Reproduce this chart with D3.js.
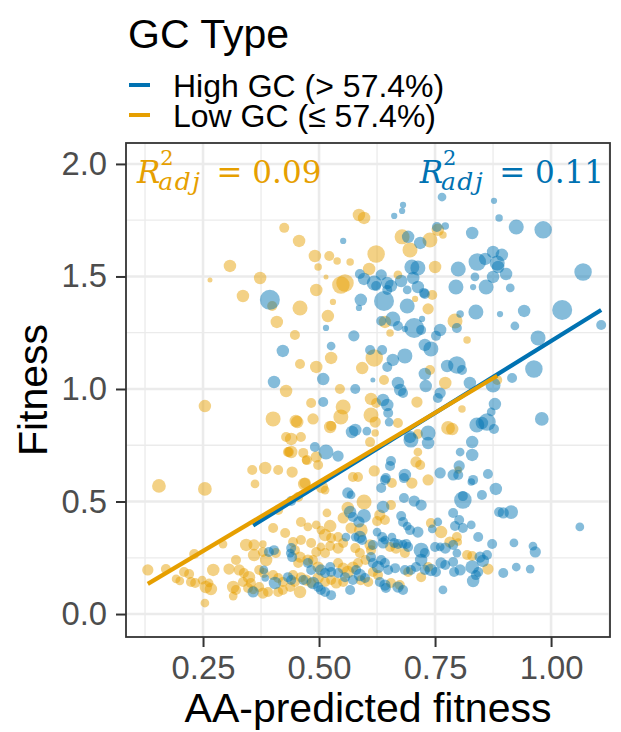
<!DOCTYPE html>
<html>
<head>
<meta charset="utf-8">
<script src="https://cdn.jsdelivr.net/npm/d3@7"></script>
<style>
  body { margin: 0; background: #fff; }
  text { font-family: "Liberation Sans", Arial, sans-serif; }
</style>
</head>
<body>
<div id="root"></div>
<script>
// [AA-predicted fitness, fitness, point size]
const highGC = [
  [0.394,1.396,8],[0.422,1.169,5],[0.403,1.031,5],
  [0.552,1.658,2.5],[0.662,1.769,2.5],[0.679,1.791,2.5],[0.681,1.818,2.5],[0.765,1.853,3.5],
  [0.515,1.271,2.5],[0.526,1.191,3.5],[0.575,1.236,4.5],[0.509,1.044,5],
  [0.588,1.511,4],[0.597,1.489,5],[0.619,1.471,6],[0.623,1.458,4],[0.634,1.507,4.5],[0.647,1.471,5],
  [0.655,1.458,5],[0.647,1.44,4],[0.677,1.48,5],[0.69,1.44,3.5],
  [0.59,1.396,5],[0.586,1.36,2.5],[0.64,1.391,8],[0.69,1.369,6],[0.726,1.427,4],[0.722,1.311,2.5],
  [0.659,1.311,6],[0.634,1.302,4],[0.67,1.28,4],[0.705,1.271,8],[0.72,1.262,4],[0.685,1.267,2.5],
  [0.761,1.262,5],[0.752,1.236,4],[0.728,1.196,5],[0.741,1.178,6],[0.61,1.173,4],[0.636,1.173,4],
  [0.685,1.147,6],[0.659,1.129,5],[0.647,1.098,4],[0.728,1.067,5],[0.67,1.027,5],[0.616,1.04,2],
  [0.776,1.102,5],[0.73,1.013,5],[0.578,1.0,4],
  [0.692,1.676,5],[0.718,1.649,5],[0.754,1.72,4],[0.772,1.724,3],[0.7,1.542,6],[0.713,1.538,6],
  [0.703,1.493,5],[0.713,1.453,5],[0.728,1.422,4],
  [0.877,1.836,2.5],[0.888,1.76,3],[0.925,1.72,6],[0.983,1.707,7],[0.83,1.693,5],
  [0.875,1.609,5],[0.894,1.596,5],[0.858,1.578,5],[0.841,1.564,7],[0.884,1.56,6],[0.886,1.542,5],
  [0.80,1.533,6],[0.903,1.511,5],[0.875,1.498,5],[0.836,1.498,3.5],[1.069,1.52,7],
  [0.795,1.453,6],[0.86,1.453,6],[0.832,1.453,2.5],[0.912,1.449,3.5],
  [0.838,1.342,6],[0.804,1.333,3],[0.89,1.333,2.5],[0.942,1.347,5],[1.024,1.351,8],
  [0.797,1.271,4],[0.922,1.28,3.5],[0.972,1.227,6],[1.108,1.284,4],
  [0.797,1.107,7],[0.808,1.084,4],[0.963,1.089,7],[0.916,1.049,4],[0.825,1.027,5],[0.875,1.018,6],
  [0.879,0.933,5],[0.871,0.898,3.5],[0.862,0.853,7],[0.84,0.84,6],[0.851,0.849,5],[0.877,0.822,4],
  [0.98,0.867,5.5],[0.675,0.996,5],[0.681,0.982,4],[0.761,0.982,4.5],[0.756,0.96,4],
  [0.83,0.764,5],[0.83,0.707,5],[0.804,0.72,3.5],[0.802,0.658,4.5],[0.789,0.618,4.5],[0.8,0.618,4],
  [0.864,0.622,4],[0.832,0.596,4],[0.828,0.587,3],[0.881,0.556,5],[0.851,0.529,4],[0.81,0.507,7],
  [0.81,0.524,4],[0.888,0.453,4],[0.897,0.449,4.5],[0.914,0.453,5.5],[1.062,0.387,3.5],[0.789,0.449,4],
  [0.802,0.418,4],[0.793,0.391,4],[0.81,0.382,4],[0.828,0.396,3.5],[0.843,0.342,4],[0.873,0.311,4],
  [0.92,0.316,3.5],[0.961,0.302,3.5],[0.966,0.276,4.5],
  [0.789,0.307,4],[0.797,0.271,3.5],[0.847,0.253,4.5],[0.853,0.236,5],[0.862,0.262,4],[0.83,0.209,5.5],
  [0.843,0.187,4],[0.838,0.173,4],[0.832,0.147,5],[0.897,0.182,4],[0.925,0.209,3.5],[0.955,0.2,3.5],
  [0.804,0.196,4.5],[0.791,0.187,4],[0.789,0.231,4],
  [0.392,0.276,4],[0.403,0.284,4],[0.358,0.098,4.5],[0.381,0.196,3.5],[0.384,0.16,3],[0.405,0.138,5],
  [0.44,0.502,4],[0.442,0.253,4],[0.466,0.151,4],[0.487,0.138,5],[0.567,0.107,4],[0.573,0.151,4],
  [0.509,0.942,4],[0.638,0.951,5],[0.647,0.929,5],[0.649,0.893,4],[0.651,0.853,3.5],[0.571,0.809,5],
  [0.578,0.818,5],[0.603,0.813,3.5],[0.491,0.742,4],[0.515,0.72,6],[0.541,0.702,4.5],
  [0.698,0.773,6],[0.696,0.787,5],[0.735,0.804,6],[0.735,0.76,5],[0.655,0.68,4],[0.653,0.658,4],
  [0.685,0.618,5],[0.683,0.604,4],[0.644,0.604,4],[0.642,0.596,4],[0.634,0.56,4],[0.761,0.627,4.5],
  [0.562,0.538,4.5],[0.569,0.529,3.5],[0.567,0.453,5],[0.573,0.431,4],[0.683,0.516,4],[0.705,0.502,4.5],
  [0.72,0.484,4.5],[0.638,0.476,5],[0.597,0.436,5.5],[0.586,0.409,4.5],[0.677,0.436,4],[0.681,0.409,4],
  [0.696,0.373,4],[0.69,0.391,3.5],[0.713,0.364,4.5],[0.744,0.378,3.5],[0.756,0.409,3.5],
  [0.558,0.342,3.5],[0.578,0.342,3.5],[0.588,0.342,5],[0.593,0.329,4],[0.625,0.364,3.5],[0.636,0.342,4],
  [0.642,0.329,3.5],[0.657,0.342,3.5],[0.662,0.316,4],[0.67,0.311,4],[0.681,0.311,3.5],[0.688,0.311,4],
  [0.692,0.298,4],[0.638,0.316,4.5],[0.72,0.284,6],[0.728,0.271,4],[0.75,0.298,4],[0.761,0.298,3.5],
  [0.772,0.293,4.5],[0.616,0.307,4],[0.44,0.293,4],[0.438,0.271,3.5],
  [0.476,0.227,4],[0.483,0.196,4],[0.504,0.196,4.5],[0.513,0.182,4],[0.524,0.209,4],[0.526,0.187,4],
  [0.541,0.182,4],[0.556,0.164,4],[0.504,0.107,4],[0.513,0.098,4],[0.526,0.084,4],[0.498,0.12,4],
  [0.433,0.164,4],[0.44,0.151,4],
  [0.58,0.196,4],[0.588,0.173,5],[0.599,0.16,4],[0.612,0.253,4],[0.616,0.227,4],[0.627,0.209,5],
  [0.634,0.24,4],[0.642,0.227,4],[0.649,0.196,4],[0.664,0.204,4],[0.631,0.142,4],[0.642,0.129,4.5],
  [0.644,0.116,4],[0.67,0.12,4.5],[0.681,0.107,4],
  [0.685,0.196,4],[0.698,0.196,4],[0.709,0.209,4],[0.72,0.24,5],[0.728,0.196,4],[0.741,0.196,5],
  [0.752,0.187,4],[0.763,0.227,4.5],[0.772,0.218,4],[0.767,0.107,3.5]
];

const lowGC = [
  [0.425,1.716,4],[0.308,1.547,5],[0.265,1.484,2],[0.373,1.493,5],[0.336,1.413,5],[0.399,1.369,4],[0.409,1.298,5],
  [0.586,1.773,5],[0.597,1.76,5],[0.457,1.658,5],[0.491,1.591,5],[0.498,1.542,3],[0.522,1.591,4],
  [0.539,1.569,3],[0.567,1.564,3],[0.623,1.6,7],[0.608,1.533,5],[0.515,1.498,2],[0.494,1.44,5],
  [0.556,1.471,7],[0.547,1.462,7],[0.459,1.36,6],[0.53,1.387,2.5],[0.519,1.324,5],[0.448,1.24,4],
  [0.459,1.111,4],[0.526,1.138,5],[0.494,1.098,5],
  [0.67,1.507,3.5],[0.707,1.4,2.5],[0.735,1.356,4.5],[0.642,1.298,5],[0.653,1.249,3],[0.619,1.138,7],
  [0.593,1.093,5],[0.739,1.084,4],[0.64,1.04,4],[0.772,1.027,5],
  [0.679,1.676,6],[0.696,1.618,6],[0.739,1.662,6],[0.756,1.707,5],[0.767,1.684,3],[0.75,1.542,5],[0.744,1.418,4],
  [0.793,1.302,6],[0.819,1.218,3],[0.884,1.04,4],
  [0.808,0.911,3],[0.787,0.822,5],[0.8,0.64,3],[0.797,0.342,4],[0.8,0.32,3],[0.819,0.262,4],[0.83,0.258,4],
  [0.864,0.2,4.5],[0.778,0.827,5.5],[0.713,0.8,4],[0.657,0.582,4],[0.782,0.32,4.5],[0.674,0.129,4],
  [0.735,0.209,4],[0.6,0.24,4],[0.59,0.15,4],
  [0.254,0.924,5],[0.401,0.867,6],[0.155,0.569,5.5],[0.254,0.556,5.5],[0.356,0.64,4],[0.384,0.649,5],
  [0.412,0.64,4],[0.362,0.578,3.5],[0.429,0.787,4],[0.433,0.72,4],[0.401,0.382,4],[0.427,0.36,4],
  [0.293,0.311,3.5],[0.231,0.267,4],[0.131,0.196,4.5],[0.17,0.2,4],[0.192,0.156,3.5],[0.2,0.147,3.5],
  [0.209,0.187,4],[0.22,0.178,4],[0.224,0.142,4],[0.233,0.138,4],[0.248,0.151,3.5],[0.256,0.12,5],
  [0.267,0.111,5],[0.263,0.138,3.5],[0.272,0.196,5],[0.254,0.049,3.5],
  [0.343,0.307,5],[0.36,0.307,4.5],[0.379,0.311,3],[0.36,0.262,5],[0.379,0.276,4],[0.386,0.24,5],
  [0.407,0.271,4],[0.306,0.2,4.5],[0.321,0.24,4],[0.328,0.196,4.5],[0.315,0.12,5],[0.321,0.107,4],
  [0.315,0.08,3.5],[0.338,0.182,4],[0.349,0.164,5],[0.336,0.142,4],[0.353,0.138,4],[0.347,0.116,4],
  [0.358,0.107,3.5],[0.371,0.12,4],[0.379,0.093,4.5],[0.39,0.098,4],[0.371,0.196,4],[0.381,0.182,4],
  [0.401,0.173,4],[0.412,0.16,4],[0.422,0.142,4],[0.422,0.107,4],[0.412,0.098,4],
  [0.429,0.991,5],[0.453,0.853,5],[0.545,1.0,4],[0.524,0.831,5],[0.435,0.72,4],[0.474,0.684,4],
  [0.468,0.578,5],[0.506,0.564,5],[0.412,0.462,4],
  [0.483,0.938,4],[0.552,0.92,6],[0.547,0.876,6],[0.45,0.858,5],[0.487,0.867,4.5],[0.526,0.836,4],
  [0.612,0.956,5],[0.623,0.938,4],[0.612,0.884,6],[0.621,0.853,4.5],[0.67,0.849,4],[0.711,0.942,4.5],
  [0.44,0.778,5],[0.461,0.787,4],[0.621,0.804,3],[0.44,0.72,5],[0.466,0.716,4],[0.494,0.698,4.5],
  [0.498,0.662,4],[0.472,0.684,3.5],[0.61,0.764,4],[0.713,0.72,3.5],[0.709,0.676,4.5],[0.718,0.662,4],
  [0.619,0.636,4.5],[0.7,0.582,4.5],[0.735,0.596,4.5],[0.442,0.631,4.5],[0.47,0.582,4.5],[0.573,0.609,4],
  [0.584,0.609,4],[0.513,0.551,3.5],[0.455,0.52,4],[0.597,0.498,6],[0.562,0.471,5],[0.631,0.44,4.5],
  [0.625,0.413,4],[0.642,0.418,4],[0.655,0.484,4],[0.517,0.449,3.5],[0.552,0.427,4.5],[0.461,0.409,4],
  [0.494,0.396,3.5],[0.524,0.391,5],[0.504,0.373,3.5],[0.476,0.387,3.5],[0.741,0.404,4],[0.763,0.364,5],
  [0.513,0.351,5],[0.526,0.338,4],[0.541,0.342,4],[0.569,0.382,4.5],[0.59,0.373,5.5],[0.653,0.298,4],
  [0.666,0.293,4.5],[0.685,0.271,4],[0.61,0.307,4.5],[0.612,0.284,4],[0.578,0.293,4],[0.588,0.271,4],
  [0.552,0.316,4],[0.541,0.293,4.5],[0.524,0.302,4],[0.504,0.298,3.5],[0.513,0.271,4],[0.494,0.276,4],
  [0.483,0.316,4],[0.461,0.329,4],[0.444,0.32,4],[0.448,0.284,4],
  [0.459,0.253,4.5],[0.476,0.24,4.5],[0.455,0.227,4],[0.487,0.24,4],[0.498,0.209,4.5],[0.541,0.227,4],
  [0.552,0.204,4.5],[0.562,0.187,5],[0.573,0.209,4.5],[0.584,0.227,4],
  [0.461,0.164,4],[0.472,0.151,4.5],[0.483,0.138,4],[0.498,0.16,4.5],[0.513,0.142,4],[0.526,0.151,4],
  [0.537,0.138,4.5],[0.552,0.142,4],[0.459,0.098,5],[0.444,0.173,4],[0.448,0.142,4],[0.438,0.12,4],
  [0.616,0.187,4],[0.627,0.173,4],[0.606,0.142,4],[0.655,0.138,4],[0.692,0.187,4],[0.72,0.164,4]
];

const groupNames = ['High GC (> 57.4%)', 'Low GC (\u2264 57.4%)'];
const groupColors = ['#0072B2', '#E69F00'];
const fitSlope = [1.277, 1.228];
const fitIntercept = [-0.064, -0.027];
const r2adj = ['0.11', '0.09'];

const xTicks = [0.25, 0.5, 0.75, 1.0];
const xMinor = [0.125, 0.375, 0.625, 0.875, 1.125];
const yTicks = [0, 0.5, 1.0, 1.5, 2.0];
const yMinor = [0.25, 0.75, 1.25, 1.75];

const width = 621, height = 732;
const panel = { left: 126, right: 610, top: 143, bottom: 637 };

let svg = d3.select('#root').append('svg')
  .attr('width', width)
  .attr('height', height);

let x = d3.scaleLinear().domain([0.084, 1.127]).range([panel.left, panel.right]),
    y = d3.scaleLinear().domain([-0.102, 2.093]).range([panel.bottom, panel.top]),
    r = d3.scaleLinear().domain([0, 8]).range([0, 10]);

svg.append('clipPath').attr('id', 'panelClip')
  .append('rect')
  .attr('x', panel.left).attr('y', panel.top)
  .attr('width', panel.right - panel.left).attr('height', panel.bottom - panel.top);

// grid
let grid = svg.append('g').attr('clip-path', 'url(#panelClip)');
grid.selectAll('.vminor').data(xMinor).enter().append('line')
  .attr('x1', d => x(d)).attr('x2', d => x(d))
  .attr('y1', panel.top).attr('y2', panel.bottom)
  .style('stroke', '#EBEBEB').style('stroke-width', 1.3);
grid.selectAll('.hminor').data(yMinor).enter().append('line')
  .attr('y1', d => y(d)).attr('y2', d => y(d))
  .attr('x1', panel.left).attr('x2', panel.right)
  .style('stroke', '#EBEBEB').style('stroke-width', 1.3);
grid.selectAll('.vmajor').data(xTicks).enter().append('line')
  .attr('x1', d => x(d)).attr('x2', d => x(d))
  .attr('y1', panel.top).attr('y2', panel.bottom)
  .style('stroke', '#EBEBEB').style('stroke-width', 2.6);
grid.selectAll('.hmajor').data(yTicks).enter().append('line')
  .attr('y1', d => y(d)).attr('y2', d => y(d))
  .attr('x1', panel.left).attr('x2', panel.right)
  .style('stroke', '#EBEBEB').style('stroke-width', 2.6);

// points
let pts = svg.append('g').attr('clip-path', 'url(#panelClip)');
[lowGC, highGC].forEach((series, i) => {
  let color = i === 0 ? groupColors[1] : groupColors[0];
  pts.append('g').selectAll('circle')
    .data(series)
    .enter()
    .append('circle')
    .attr('cx', d => x(d[0]))
    .attr('cy', d => y(d[1]))
    .attr('r', d => r(d[2]))
    .style('fill', color)
    .style('fill-opacity', 0.48);
});

// fitted lines, over each group's x range
let lines = svg.append('g').attr('clip-path', 'url(#panelClip)');
[highGC, lowGC].forEach((series, i) => {
  let ext = d3.extent(series, d => d[0]);
  lines.append('line')
    .attr('x1', x(ext[0])).attr('y1', y(fitIntercept[i] + fitSlope[i] * ext[0]))
    .attr('x2', x(ext[1])).attr('y2', y(fitIntercept[i] + fitSlope[i] * ext[1]))
    .style('stroke', groupColors[i])
    .style('stroke-width', 4.2);
});

// panel border
svg.append('rect')
  .attr('x', panel.left).attr('y', panel.top)
  .attr('width', panel.right - panel.left).attr('height', panel.bottom - panel.top)
  .style('fill', 'none').style('stroke', '#333333').style('stroke-width', 1.8);

// axes
let xAxis = svg.append('g')
  .attr('transform', 'translate(0,' + panel.bottom + ')')
  .call(d3.axisBottom(x).tickValues(xTicks).tickFormat(d3.format('.2f')).tickSize(10).tickPadding(9));
let yAxis = svg.append('g')
  .attr('transform', 'translate(' + panel.left + ',0)')
  .call(d3.axisLeft(y).tickValues(yTicks).tickFormat(d3.format('.1f')).tickSize(10).tickPadding(9));

[xAxis, yAxis].forEach(ax => {
  ax.select('.domain').remove();
  ax.selectAll('.tick line').style('stroke', '#333333').style('stroke-width', 2);
  ax.selectAll('.tick text')
    .style('font-family', '"Liberation Sans", Arial, sans-serif')
    .style('font-size', '32.8px')
    .style('fill', '#4D4D4D');
});

svg.append('text')
  .attr('x', (panel.left + panel.right) / 2)
  .attr('y', 722)
  .attr('text-anchor', 'middle')
  .style('font-size', '41px')
  .text('AA-predicted fitness');

svg.append('text')
  .attr('transform', 'translate(47,' + (panel.top + panel.bottom) / 2 + ') rotate(-90)')
  .attr('text-anchor', 'middle')
  .style('font-size', '41px')
  .text('Fitness');

// legend
svg.append('text')
  .attr('x', 128).attr('y', 48)
  .style('font-size', '41px')
  .text('GC Type');

let legendRows = [85, 115];
groupNames.forEach((name, i) => {
  svg.append('line')
    .attr('x1', 129).attr('x2', 150)
    .attr('y1', legendRows[i]).attr('y2', legendRows[i])
    .style('stroke', groupColors[i]).style('stroke-width', 4);
  svg.append('text')
    .attr('x', 173).attr('y', legendRows[i] + 12)
    .style('font-size', '32px')
    .text(name);
});

// R^2_adj annotations: one text element, script parts stacked with tspans
function r2Label(value, color, anchorX, baseY, alignRight) {
  let t = svg.append('text')
    .attr('y', baseY)
    .style('fill', color)
    .style('font-family', '"DejaVu Serif", serif');
  let tR = t.append('tspan').attr('y', baseY)
    .style('font-style', 'italic').style('font-size', '31px').text('R');
  let t2 = t.append('tspan').attr('y', baseY - 18)
    .style('font-size', '21px').text('2');
  let tAdj = t.append('tspan').attr('y', baseY + 7)
    .style('font-style', 'italic').style('font-size', '25px')
    .style('letter-spacing', '1.5px').text('adj');
  let tEq = t.append('tspan').attr('y', baseY)
    .style('font-size', '31px').text('= ' + value);

  let wR = tR.node().getComputedTextLength(),
      wScript = Math.max(t2.node().getComputedTextLength(), tAdj.node().getComputedTextLength()),
      wEq = tEq.node().getComputedTextLength(),
      gap = 13,
      total = wR + wScript + gap + wEq,
      x0 = alignRight ? anchorX - total : anchorX;

  tR.attr('x', x0);
  t2.attr('x', x0 + wR);
  tAdj.attr('x', x0 + wR - 2);
  tEq.attr('x', x0 + wR + wScript + gap);
}

r2Label(r2adj[1], groupColors[1], 137, 183, false);
r2Label(r2adj[0], groupColors[0], 604, 183, true);
</script>
</body>
</html>
